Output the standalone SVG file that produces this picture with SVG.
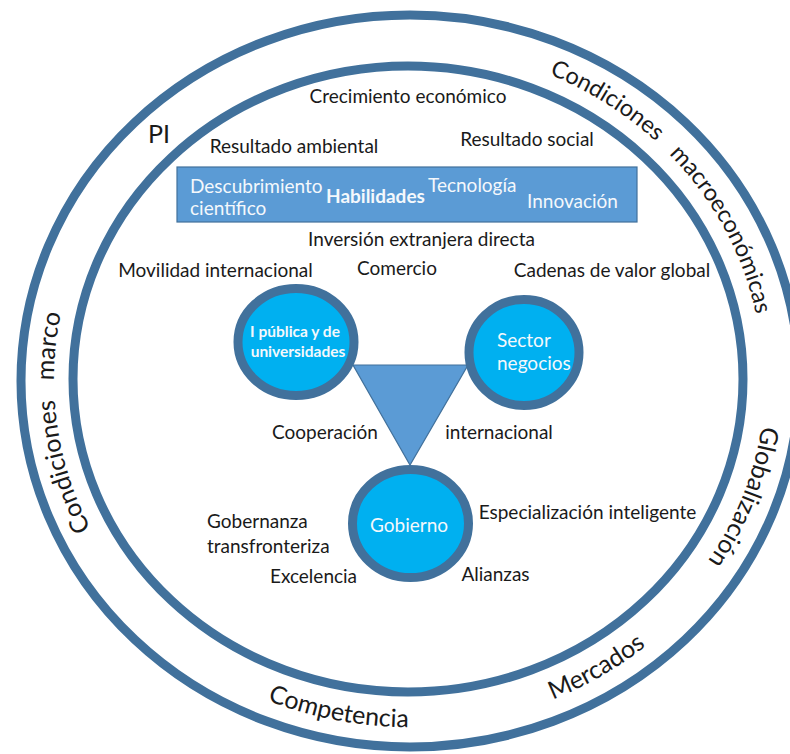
<svg xmlns="http://www.w3.org/2000/svg" width="790" height="754" viewBox="0 0 790 754">
<style>
.ring{fill:none;stroke:#41719C;stroke-width:9}
.node{fill:#00B0F0;stroke:#41719C;stroke-width:9}
.box{fill:#5B9BD5;stroke:#41719C;stroke-width:1.2}
.t{font-family:Lato,"Open Sans",sans-serif;font-size:19px;fill:#1a1a1a}
.w{font-family:Lato,"Open Sans",sans-serif;font-size:19px;fill:#F4F8FC}
.b{font-weight:bold}
.big{font-family:Lato,"Open Sans",sans-serif;font-size:25px;fill:#1a1a1a}
.m{text-anchor:middle}
</style>
<defs>
<path id="pMacro" d="M358.6,50.2 A355,333 0 0 1 737.2,504.7"/>
<path id="pGlob" d="M679.5,163.7 A357,333 0 0 1 473,707.4"/>
<path id="pMarco" d="M269.6,687 A352,333 0 0 1 193.1,114.8"/>
<path id="pComp" d="M58.4,488.4 A369,347 0 0 0 684.1,611.3"/>
<path id="pMerc" d="M239.2,688.1 A369,347 0 0 0 777.6,364.2"/>
</defs>
<rect width="790" height="754" fill="#fff"/>
<g id="rings">
<ellipse class="ring" cx="410" cy="381" rx="389" ry="366"/>
<ellipse class="ring" cx="408" cy="379" rx="335" ry="313"/>
</g>
<g id="ring-labels">
<text class="big" x="148" y="143">PI</text>
<text class="big m" style="font-size:23.5px" xml:space="preserve"><textPath href="#pMacro" startOffset="50%">Condiciones   macroeconómicas</textPath></text>
<text class="big m"><textPath href="#pGlob" startOffset="50%">Globalización</textPath></text>
<text class="big m" xml:space="preserve"><textPath href="#pMarco" startOffset="50%">Condiciones   marco</textPath></text>
<text class="big m"><textPath href="#pComp" startOffset="50%">Competencia</textPath></text>
<text class="big m"><textPath href="#pMerc" startOffset="50%">Mercados</textPath></text>
</g>
<g id="outcomes">
<text class="t m" x="408" y="103">Crecimiento económico</text>
<text class="t m" x="294" y="153">Resultado ambiental</text>
<text class="t m" x="527" y="146">Resultado social</text>
</g>
<g id="box">
<rect class="box" x="177" y="167" width="460" height="55"/>
<text class="w" x="190" y="193">Descubrimiento</text>
<text class="w" x="190" y="215">científico</text>
<text class="w b" x="326" y="203">Habilidades</text>
<text class="w" x="428" y="192">Tecnología</text>
<text class="w" x="527" y="208">Innovación</text>
</g>
<g id="context">
<text class="t m" x="421.5" y="246">Inversión extranjera directa</text>
<text class="t m" x="215.5" y="277">Movilidad internacional</text>
<text class="t m" x="397" y="275">Comercio</text>
<text class="t m" x="612" y="277">Cadenas de valor global</text>
<text class="t m" x="325" y="439">Cooperación</text>
<text class="t m" x="499" y="439">internacional</text>
<text class="t m" x="587.5" y="519">Especialización inteligente</text>
<text class="t" x="207" y="528">Gobernanza</text>
<text class="t" x="207" y="553">transfronteriza</text>
<text class="t m" x="313.5" y="583">Excelencia</text>
<text class="t m" x="495.5" y="581">Alianzas</text>
</g>
<g id="connectors">
<polygon class="box" points="353,365 468,365 410,465"/>
</g>
<g id="node-universidades">
<ellipse class="node" cx="296" cy="342" rx="58" ry="53.5"/>
<text class="w b m" style="font-size:15.5px" x="295" y="337">I pública y de</text>
<text class="w b m" style="font-size:15.5px" x="298" y="357">universidades</text>
</g>
<g id="node-negocios">
<ellipse class="node" cx="524" cy="352.5" rx="55" ry="53"/>
<text class="w" x="497" y="347">Sector</text>
<text class="w" x="497" y="370">negocios</text>
</g>
<g id="node-gobierno">
<ellipse class="node" cx="410.5" cy="523.5" rx="58" ry="54"/>
<text class="w m" x="409" y="532">Gobierno</text>
</g>
</svg>
